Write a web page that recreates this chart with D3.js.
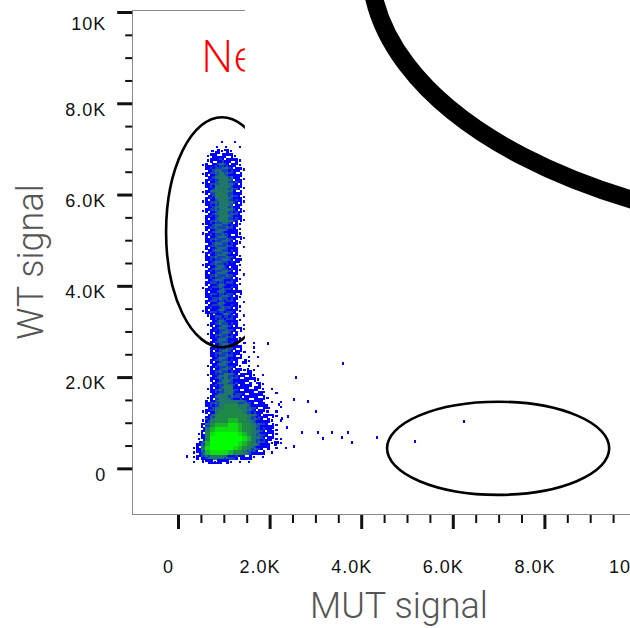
<!DOCTYPE html>
<html>
<head>
<meta charset="utf-8">
<script src="https://cdn.jsdelivr.net/npm/d3@7"></script>
<style>
  body { margin: 0; background: #fff; }
  svg { display: block; }
  .axis .domain { display: none; }
  .axis line { stroke: #111; }
  .axis text {
    font-family: 'Liberation Sans', Arial, sans-serif;
    font-size: 18px;
    letter-spacing: 1px;
    fill: #111;
  }
  .title {
    font-family: Roboto, sans-serif;
    font-weight: 300;
    font-size: 36px;
    fill: #555;
  }
  .gate-label {
    font-family: 'Open Sans', sans-serif;
    font-weight: 300;
    font-size: 45px;
    fill: #ff0000;
  }
</style>
</head>
<body>
<div id="chart"></div>
<script>
// tick values + labels (same on both axes)
const majorTicks = [0, 2000, 4000, 6000, 8000, 10000]
const majorLabels = ['0', '2.0K', '4.0K', '6.0K', '8.0K', '10K']

// density bins: 100 x 100 units per cell
// x bins start at 300, rows start at 7200 and go down
// '.' empty, 1 = a lone event, 2..9 = blue -> bright green
const binX0 = 300
const binYTop = 7200
const binSize = 100
const densityRows = [
  '......1..1...........',
  '.....1.1..1..........',
  '....12121............',
  '...1222221...........',
  '...12232221..........',
  '..122343221..........',
  '...234443221.........',
  '..123454322..........',
  '...234554221.........',
  '..123455432..........',
  '...235554321.........',
  '..124555422..........',
  '...235554321.........',
  '..1234554321.........',
  '...23455422..........',
  '..1234554321.........',
  '...23455432..........',
  '...234554321.........',
  '..123444321..........',
  '...23444321..........',
  '..123443221..........',
  '...234443221.........',
  '...23444321..........',
  '...2344432.1.........',
  '..12344432...........',
  '...23444321..........',
  '...23444322..........',
  '..123443221..........',
  '...23444321..........',
  '...2344432.1.........',
  '...23443321..........',
  '...23343321..........',
  '..12334332...........',
  '...23343322.1........',
  '...23344321..........',
  '...2334332.1.........',
  '...23343321..........',
  '..123343321..........',
  '...1233432.1.........',
  '....2343321..........',
  '...1234432.1.........',
  '....23443221.........',
  '...1234432..1........',
  '....2344321.1........',
  '...1234432.1.1.......',
  '....2344322..1.......',
  '....23443221.1.......',
  '....2344322.1.1......',
  '....234432.21........',
  '...12344321.1.1......',
  '....2344322121.......',
  '...12345432221.1.....',
  '....23454322221......',
  '....234543222.21.....',
  '...1234553222221.1...',
  '....234553322222..1..',
  '...12455433222221....',
  '...2345555443222.1.1.',
  '...23456665543222..1.',
  '..123566666543221.1..',
  '...2466666665432221..',
  '..1356667766543221.1.',
  '..24677788766543221..',
  '..25788888766543221..',
  '.126899999876543221..',
  '.1269999999875432211.',
  '.2479999998765432121.',
  '12589999987654322.1.1',
  '1247888876654322.1...',
  '12345554332221.1.....',
  '1.1222221.1.1........',
]

// stray events outside the main population
const strayX = [1965, 3603, 2576, 2838, 2533, 3013, 2205, 2402, 2271, 2707, 3057, 3362,
  3712, 3166, 3581, 3799, 4345, 2533, 2380, 2074, 197, 546, 808, 5175, 6245]
const strayY = [2739, 2300, 1994, 1468, 1512, 1249, 1403, 1139, 1095, 789, 789, 789,
  789, 657, 679, 570, 679, 482, 898, 898, 263, 197, 131, 592, 1030]

// gates (data units)
const gateCx = [960, 6990]
const gateCy = [5175, 440]
const gateRx = [1220, 2425]
const gateRy = [2520, 1020]
const gateNames = ['Negative']

// the overlapping panel from the next figure: covered area + its heavy gate
const coverX0 = 1460
const coverY0 = 2800
const bigGate = { cx: 15550, cy: 11020, rx: 11350, ry: 5915 }

// each bin is painted as 2x2 sub-squares; low levels mix two colours
// (null = left white) so the sparse edge looks speckled like the original
const levelPattern = {
  2: ['#0000ff', '#0000ff', '#0000ff', null],
  3: ['#0000ff', '#1440b8', '#1440b8', '#0000ff'],
  4: ['#1440b8', '#1b6a86', '#1b6a86', '#1440b8'],
  5: ['#1d7472', '#227a5c', '#227a5c', '#1d7472'],
  6: ['#1f8a48', '#1f8a48', '#1f8a48', '#1f8a48'],
  7: ['#18b52a', '#18b52a', '#18b52a', '#18b52a'],
  8: ['#0ddf10', '#0ddf10', '#0ddf10', '#0ddf10'],
  9: ['#00ff00', '#00ff00', '#00ff00', '#00ff00'],
}

const width = 630
const height = 628

const svg = d3
  .select('#chart')
  .append('svg')
  .attr('width', width)
  .attr('height', height)
  .attr('viewBox', `0 0 ${width} ${height}`)

const x = d3.scaleLinear().domain([-1000, 11000]).range([132.2, 681.8])
const y = d3.scaleLinear().domain([-1000, 10000]).range([514, 12])

const minorTicks = d3.range(500, 10000, 500).filter((v) => v % 2000 !== 0)
const fmt = (d) => majorLabels[majorTicks.indexOf(d)]

// plot frame
svg
  .append('rect')
  .attr('x', Math.round(x(-1000)) + 0.5)
  .attr('y', Math.round(y(10050)) + 0.5)
  .attr('width', x(11000) - x(-1000))
  .attr('height', Math.round(y(-1000)) - Math.round(y(10050)))
  .attr('fill', 'none')
  .attr('stroke', '#8a8a8a')
  .attr('stroke-width', 1)

// y axis
const yAxis = svg
  .append('g')
  .attr('class', 'axis')
  .attr('transform', `translate(${x(-1000)},0)`)
yAxis
  .append('g')
  .call(d3.axisLeft(y).tickValues(minorTicks).tickSize(7).tickFormat(''))
  .selectAll('line')
  .attr('stroke-width', 2)
const yMajor = yAxis
  .append('g')
  .call(d3.axisLeft(y).tickValues(majorTicks).tickSize(15).tickPadding(11).tickFormat(fmt))
yMajor.selectAll('line').attr('stroke-width', 3)
// the top label sits a little lower in the original
yMajor.selectAll('text').attr('y', (d) => (d === 10000 ? 12 : 6))

// x axis
const xAxis = svg
  .append('g')
  .attr('class', 'axis')
  .attr('transform', `translate(0,${y(-1000) + 1})`)
xAxis
  .append('g')
  .call(d3.axisBottom(x).tickValues(minorTicks).tickSize(8).tickFormat(''))
  .selectAll('line')
  .attr('stroke-width', 2)
const xMajor = xAxis
  .append('g')
  .call(d3.axisBottom(x).tickValues(majorTicks).tickSize(14).tickPadding(31).tickFormat(fmt))
xMajor.selectAll('line').attr('stroke-width', 3)
xMajor.selectAll('text').attr('x', -10)

// density cells
const cells = []
densityRows.forEach((row, r) => {
  row.split('').forEach((ch, c) => {
    if (ch === '.') return
    cells.push({ r, c, x0: binX0 + c * binSize, yTop: binYTop - r * binSize, level: +ch })
  })
})

// split each bin into four quarter squares
const half = binSize / 2
const subCells = []
cells
  .filter((d) => d.level > 1)
  .forEach((d) => {
    const pattern = levelPattern[d.level]
    // rotate the pattern per bin so the gaps do not line up
    const shift = (d.r * 3 + d.c) % 4
    ;[0, 1, 2, 3].forEach((k) => {
      const fill = pattern[(k + shift) % 4]
      if (!fill) return
      subCells.push({
        x0: d.x0 + (k % 2) * half,
        yTop: d.yTop - Math.floor(k / 2) * half,
        fill,
      })
    })
  })

const plot = svg.append('g').attr('shape-rendering', 'crispEdges')

plot
  .selectAll('rect.cell')
  .data(subCells)
  .enter()
  .append('rect')
  .attr('class', 'cell')
  .attr('x', (d) => x(d.x0))
  .attr('y', (d) => y(d.yTop))
  .attr('width', (d) => x(d.x0 + half) - x(d.x0) + 0.3)
  .attr('height', (d) => y(d.yTop - half) - y(d.yTop) + 0.3)
  .attr('fill', (d) => d.fill)

// lone events: small dots in the middle of their bin
plot
  .selectAll('rect.lone')
  .data(cells.filter((d) => d.level === 1))
  .enter()
  .append('rect')
  .attr('class', 'lone')
  .attr('x', (d) => x(d.x0 + half) - 1)
  .attr('y', (d) => y(d.yTop - half) - 1)
  .attr('width', 2.2)
  .attr('height', 2.2)
  .attr('fill', '#0000ff')

plot
  .selectAll('rect.stray')
  .data(strayX.map((v, i) => [v, strayY[i]]))
  .enter()
  .append('rect')
  .attr('class', 'stray')
  .attr('x', (d) => x(d[0]) - 1)
  .attr('y', (d) => y(d[1]) - 1)
  .attr('width', 2.2)
  .attr('height', 2.2)
  .attr('fill', '#0000ff')

// gates
svg
  .append('g')
  .selectAll('ellipse')
  .data(gateCx.map((cx, i) => ({ cx, cy: gateCy[i], rx: gateRx[i], ry: gateRy[i] })))
  .enter()
  .append('ellipse')
  .attr('cx', (d) => x(d.cx))
  .attr('cy', (d) => y(d.cy))
  .attr('rx', (d) => x(d.cx + d.rx) - x(d.cx))
  .attr('ry', (d) => y(d.cy - d.ry) - y(d.cy))
  .attr('fill', 'none')
  .attr('stroke', '#000')
  .attr('stroke-width', 2.6)

svg
  .append('text')
  .attr('class', 'gate-label')
  .attr('x', x(500))
  .attr('y', y(8680))
  .text(gateNames[0])

// overlapping panel
svg
  .append('rect')
  .attr('x', x(coverX0))
  .attr('y', -5)
  .attr('width', width - x(coverX0) + 5)
  .attr('height', y(coverY0) + 5)
  .attr('fill', '#fff')

svg
  .append('ellipse')
  .attr('cx', x(bigGate.cx))
  .attr('cy', y(bigGate.cy))
  .attr('rx', x(bigGate.cx + bigGate.rx) - x(bigGate.cx))
  .attr('ry', y(bigGate.cy - bigGate.ry) - y(bigGate.cy))
  .attr('fill', 'none')
  .attr('stroke', '#000')
  .attr('stroke-width', 18)

// axis titles
svg
  .append('text')
  .attr('class', 'title')
  .attr('text-anchor', 'middle')
  .attr('x', 399)
  .attr('y', 618)
  .text('MUT signal')

svg
  .append('text')
  .attr('class', 'title')
  .attr('text-anchor', 'middle')
  .attr('transform', 'translate(43,262) rotate(-90)')
  .text('WT signal')
</script>
</body>
</html>
